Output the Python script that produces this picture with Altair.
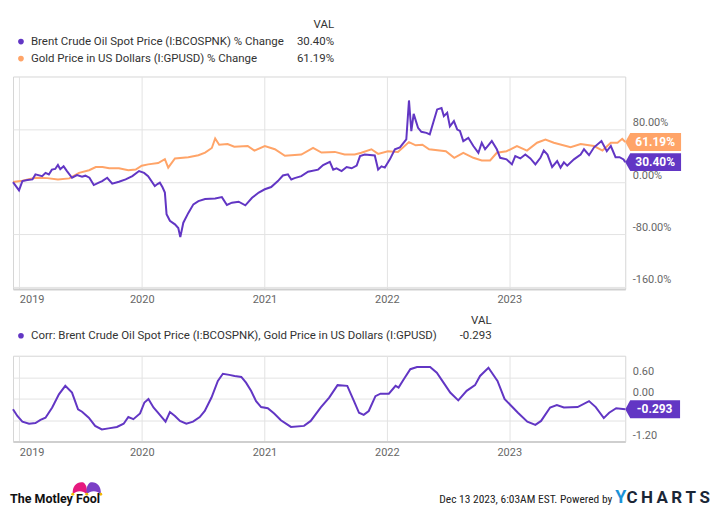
import altair as alt
import pandas as pd

# ---------------- data ----------------
brent_dates = [
    "2018-12-13", "2018-12-31", "2019-01-10", "2019-01-25", "2019-02-09", "2019-02-18",
    "2019-03-10", "2019-03-20", "2019-03-30", "2019-04-08", "2019-04-18", "2019-04-26",
    "2019-05-03", "2019-05-13", "2019-05-23", "2019-06-07", "2019-06-22", "2019-07-07",
    "2019-07-17", "2019-07-29", "2019-08-11", "2019-08-26", "2019-09-05", "2019-09-20",
    "2019-10-05", "2019-10-25", "2019-11-14", "2019-12-04", "2019-12-24", "2020-01-08",
    "2020-01-20", "2020-02-09", "2020-02-17", "2020-02-24", "2020-03-03", "2020-03-10",
    "2020-03-15", "2020-03-25", "2020-04-09", "2020-04-19", "2020-04-25", "2020-05-04",
    "2020-05-19", "2020-06-03", "2020-06-18", "2020-07-08", "2020-08-07", "2020-08-27",
    "2020-09-11", "2020-09-26", "2020-10-16", "2020-11-05", "2020-11-25", "2020-12-15",
    "2021-01-02", "2021-01-21", "2021-02-10", "2021-02-25", "2021-03-12", "2021-03-22",
    "2021-04-01", "2021-04-21", "2021-05-11", "2021-06-10", "2021-06-25", "2021-07-15",
    "2021-07-25", "2021-08-04", "2021-08-19", "2021-09-03", "2021-09-18", "2021-10-03",
    "2021-10-13", "2021-10-27", "2021-11-26", "2021-12-06", "2021-12-16", "2021-12-26",
    "2022-01-10", "2022-01-25", "2022-02-09", "2022-02-28", "2022-03-08", "2022-03-15",
    "2022-03-22", "2022-04-04", "2022-04-14", "2022-04-29", "2022-05-09", "2022-05-19",
    "2022-05-31", "2022-06-13", "2022-06-20", "2022-06-30", "2022-07-08", "2022-07-20",
    "2022-07-30", "2022-08-07", "2022-08-17", "2022-09-01", "2022-09-16", "2022-10-01",
    "2022-10-11", "2022-10-21", "2022-11-10", "2022-11-25", "2022-12-05", "2022-12-24",
    "2023-01-09", "2023-01-19", "2023-02-03", "2023-02-18", "2023-03-05", "2023-03-20",
    "2023-04-04", "2023-04-14", "2023-04-25", "2023-05-09", "2023-05-24", "2023-06-03",
    "2023-06-13", "2023-06-23", "2023-07-13", "2023-08-02", "2023-08-12", "2023-08-27",
    "2023-09-11", "2023-10-03", "2023-10-19", "2023-10-31", "2023-11-14", "2023-11-26",
    "2023-12-08", "2023-12-13",
]
brent_pct = [
    0, -12.6, 1.5, 3, 4, 11.7,
    9, 14, 11.5, 19, 20, 26,
    19.5, 24, 16.8, 6.6, 10.7, 8,
    9.7, 6.6, -4.6, -1, 1.5, 6.6,
    -2.5, 0.5, 4, 9, 16.8, 14,
    9, -6, -3, -1, -8, -16,
    -49, -59, -64.5, -70, -84, -62,
    -47, -34, -29, -26, -25, -23,
    -35, -31.5, -30, -35.5, -24, -16,
    -11, -7.6, 1.5, 10, 11.7, 4,
    6, 9, 15.7, 19, 26, 31,
    19, 21, 16.8, 23, 21, 25,
    39.6, 42, 40.6, 19, 24, 22,
    34.6, 50, 53, 65, 124.5, 77.7,
    104, 82.8, 76.7, 75, 72.7, 90,
    110.8, 113, 100.6, 105.6, 85, 93,
    80, 78, 62.5, 67.5, 55, 44.7,
    60, 50, 62.5, 50, 37, 34.6,
    27, 39.6, 36, 42, 36, 27,
    37, 48, 42, 23, 32, 22,
    30, 25, 34.6, 42, 50, 41,
    53, 62.5, 47, 55, 38, 38,
    34.6, 30.4,
]

gold_dates = [
    "2018-12-13", "2019-01-10", "2019-02-18", "2019-03-25", "2019-04-26", "2019-05-30",
    "2019-06-28", "2019-07-28", "2019-08-17", "2019-09-06", "2019-09-26", "2019-10-25",
    "2019-11-22", "2019-12-14", "2020-01-01", "2020-01-20", "2020-02-19", "2020-03-10",
    "2020-03-20", "2020-04-09", "2020-05-19", "2020-06-18", "2020-07-08", "2020-07-28",
    "2020-08-07", "2020-08-19", "2020-09-13", "2020-10-03", "2020-11-12", "2020-12-02",
    "2021-01-02", "2021-02-01", "2021-03-03", "2021-04-21", "2021-05-26", "2021-06-20",
    "2021-07-30", "2021-08-28", "2021-09-27", "2021-10-17", "2021-11-16", "2021-12-06",
    "2022-01-04", "2022-02-03", "2022-03-08", "2022-03-28", "2022-04-17", "2022-05-07",
    "2022-06-26", "2022-07-21", "2022-08-17", "2022-09-16", "2022-10-11", "2022-11-05",
    "2022-11-25", "2022-12-24", "2023-01-24", "2023-02-23", "2023-03-25", "2023-04-19",
    "2023-05-14", "2023-07-03", "2023-08-02", "2023-09-11", "2023-10-06", "2023-10-31",
    "2023-11-20", "2023-12-04", "2023-12-13",
]
gold_pct = [
    0, 2, 6.6, 6, 4, 5.6,
    14, 18, 22.8, 23, 21, 21,
    18, 19, 25, 27, 29, 35,
    22, 36, 38, 41, 45, 52,
    66.6, 57, 58, 54, 55, 48,
    55, 50, 40, 42, 52, 45,
    46, 42, 42, 44.7, 50, 43,
    47, 46, 61, 56, 57, 50,
    47, 37, 44.7, 37, 33, 33,
    44.7, 47, 55, 48, 60, 65,
    60, 53, 58, 55, 48, 60,
    60, 66, 61.19,
]

corr_dates = [
    "2018-12-13", "2018-12-26", "2019-01-10", "2019-01-30", "2019-02-18", "2019-03-05",
    "2019-03-20", "2019-04-09", "2019-04-29", "2019-05-18", "2019-06-07", "2019-06-25",
    "2019-07-07", "2019-07-27", "2019-08-15", "2019-09-04", "2019-09-24", "2019-10-19",
    "2019-11-08", "2019-11-22", "2019-12-07", "2019-12-27", "2020-01-09", "2020-01-21",
    "2020-02-05", "2020-02-19", "2020-03-12", "2020-03-25", "2020-04-09", "2020-04-24",
    "2020-05-13", "2020-06-02", "2020-06-22", "2020-07-07", "2020-07-27", "2020-08-15",
    "2020-08-30", "2020-09-18", "2020-10-04", "2020-10-24", "2020-11-07", "2020-11-22",
    "2020-12-07", "2020-12-22", "2021-01-11", "2021-01-30", "2021-02-19", "2021-03-21",
    "2021-04-29", "2021-05-19", "2021-06-18", "2021-07-13", "2021-08-07", "2021-09-05",
    "2021-09-25", "2021-10-10", "2021-10-24", "2021-11-08", "2021-11-28", "2021-12-13",
    "2022-01-07", "2022-01-27", "2022-02-05", "2022-02-20", "2022-03-12", "2022-04-01",
    "2022-05-10", "2022-05-30", "2022-06-19", "2022-07-09", "2022-08-02", "2022-08-27",
    "2022-09-21", "2022-10-06", "2022-10-31", "2022-11-27", "2022-12-18", "2023-01-27",
    "2023-02-24", "2023-03-20", "2023-04-06", "2023-05-03", "2023-05-23", "2023-06-13",
    "2023-07-24", "2023-08-27", "2023-09-16", "2023-10-10", "2023-10-26", "2023-11-16",
    "2023-12-13",
]
corr_vals = [
    -0.29, -0.48, -0.64, -0.70, -0.68, -0.59,
    -0.53, -0.24, 0.13, 0.37, 0.18, -0.29,
    -0.36, -0.53, -0.76, -0.86, -0.83, -0.79,
    -0.70, -0.51, -0.57, -0.41, -0.10, 0.0,
    -0.24, -0.39, -0.64, -0.37, -0.48, -0.62,
    -0.70, -0.64, -0.51, -0.34, 0.04, 0.51,
    0.71, 0.68, 0.65, 0.62, 0.46, 0.23,
    -0.06, -0.23, -0.26, -0.41, -0.60, -0.79,
    -0.76, -0.62, -0.24, 0.04, 0.39, 0.37,
    -0.06, -0.39, -0.45, -0.34, 0.08, 0.15,
    0.15, 0.37, 0.32, 0.55, 0.84, 0.90,
    0.90, 0.74, 0.46, 0.18, -0.04, 0.23,
    0.39, 0.65, 0.88, 0.51, 0.0, -0.39,
    -0.64, -0.73, -0.62, -0.24, -0.17, -0.24,
    -0.23, -0.06, -0.23, -0.54, -0.39, -0.26,
    -0.293,
]

top_ticks = [-160, -80, 0, 80]
bottom_ticks = [-1.2, -0.6, 0, 0.6]
year_ticks = [2019, 2020, 2021, 2022, 2023]

top_names = ["Brent Crude Oil Spot Price (I:BCOSPNK) % Change",
             "Gold Price in US Dollars (I:GPUSD) % Change"]
top_values = ["30.40%", "61.19%"]
bottom_name = "Corr: Brent Crude Oil Spot Price (I:BCOSPNK), Gold Price in US Dollars (I:GPUSD)"
bottom_value = "-0.293"
footer_text = "Dec 13 2023, 6:03AM EST.  Powered by"

# ---------------- styles ----------------
PURPLE = "#6236c4"
ORANGE = "#ffa468"
GRID = "#e3e3e3"
LABEL = "#666666"
TEXT = "#333333"
FONT = "Roboto"

W, H_TOP, H_BOT = 614, 213, 86

brent = pd.DataFrame({"date": brent_dates, "value": brent_pct})
gold = pd.DataFrame({"date": gold_dates, "value": gold_pct})
corr = pd.DataFrame({"date": corr_dates, "value": corr_vals})
brent_last = pd.DataFrame({"date": [brent_dates[-1]], "value": [brent_pct[-1]], "label": [top_values[0]]})
gold_last = pd.DataFrame({"date": [gold_dates[-1]], "value": [gold_pct[-1]], "label": [top_values[1]]})
corr_last = pd.DataFrame({"date": [corr_dates[-1]], "value": [corr_vals[-1]], "label": [bottom_value]})
one = pd.DataFrame({"k": [0]})

x_scale = alt.Scale(
    type="utc",
    domain=[alt.DateTime(year=2018, month=12, date=13, utc=True),
            alt.DateTime(year=2023, month=12, date=13, utc=True)],
)
x_axis = alt.Axis(
    values=[alt.DateTime(year=y, month=1, date=1, utc=True) for y in year_ticks],
    labelExpr="utcFormat(datum.value, '%Y')",
    title=None, ticks=False, tickSize=0, grid=True, gridColor=GRID,
    domainColor="#cfcfcf", domainWidth=2,
    labelFont=FONT, labelFontSize=11, labelColor=LABEL, labelPadding=5, labelFlush=10,
)
X = alt.X("date:T", scale=x_scale, axis=x_axis)

Y_TOP = alt.Y(
    "value:Q",
    scale=alt.Scale(domain=[-163, 161], nice=False, zero=False),
    axis=alt.Axis(
        orient="right", values=top_ticks, title=None, ticks=False, tickSize=0, domain=False,
        grid=True, gridColor=GRID, labelFont=FONT, labelFontSize=11, labelColor=LABEL,
        labelPadding=7, labelBaseline="bottom", labelOffset=-2,
        labelExpr="(datum.value < 0 ? '-' : '') + format(abs(datum.value), abs(datum.value) >= 100 ? '.1f' : '.2f') + '%'",
    ),
)
Y_BOT = alt.Y(
    "value:Q",
    scale=alt.Scale(domain=[-1.2, 1.22], nice=False, zero=False),
    axis=alt.Axis(
        orient="right", values=bottom_ticks, title=None, ticks=False, tickSize=0, domain=False,
        grid=True, gridColor=GRID, labelFont=FONT, labelFontSize=11, labelColor=LABEL,
        labelPadding=7, labelBaseline="bottom", labelOffset=-1,
        # the -0.60 label sits under the value badge, as in the original
        labelExpr="datum.value == -0.6 ? '' : (datum.value < 0 ? '-' : '') + format(abs(datum.value), '.2f')",
    ),
)


def txt(s, x, y, size=11.5, color=TEXT, align="left", baseline="middle", weight="normal", font=FONT):
    return alt.Chart(one).mark_text(
        text=s, align=align, baseline=baseline, fontSize=size, color=color,
        fontWeight=weight, font=font,
    ).encode(x=alt.value(x), y=alt.value(y))


def dot(x, y, color, size=32):
    return alt.Chart(one).mark_circle(size=size, color=color, opacity=1).encode(
        x=alt.value(x), y=alt.value(y))


def shape(path, x, y, color):
    return alt.Chart(one).mark_point(shape=path, size=4, filled=True, color=color, opacity=1).encode(
        x=alt.value(x), y=alt.value(y))


def badge(df, Y, color, width):
    path = f"M0,0L5,-9L{width},-9L{width},9L5,9Z"
    b = alt.Chart(df).mark_point(shape=path, size=4, filled=True, color=color, opacity=1).encode(x=X, y=Y)
    t = alt.Chart(df).mark_text(
        dx=width / 2 + 2, color="white", fontWeight="bold", fontSize=12, font=FONT,
        align="center", baseline="middle",
    ).encode(x=X, y=Y, text="label:N")
    return b + t


marker_tl = alt.Chart(one).mark_rule(opacity=0).encode(
    x=alt.value(-3), x2=alt.value(-2), y=alt.value(-67), y2=alt.value(-66))

top = alt.layer(
    alt.Chart(gold).mark_line(color=ORANGE, strokeWidth=2).encode(x=X, y=Y_TOP),
    alt.Chart(brent).mark_line(color=PURPLE, strokeWidth=2).encode(x=X, y=Y_TOP),
    badge(gold_last, Y_TOP, ORANGE, 56),
    badge(brent_last, Y_TOP, PURPLE, 56),
    txt("VAL", 322, -52, align="right"),
    dot(8, -35, PURPLE),
    txt(top_names[0], 18, -35),
    txt(top_values[0], 322, -35, align="right"),
    dot(8, -18, ORANGE),
    txt(top_names[1], 18, -18),
    txt(top_values[1], 322, -18, align="right"),
    marker_tl,
).properties(width=W, height=H_TOP)

marker_br = alt.Chart(one).mark_rule(opacity=0).encode(
    x=alt.value(699), x2=alt.value(700), y=alt.value(149), y2=alt.value(150))

HAT_L = "M-7,6C-8,-3 -2,-7 3,-6C6,-5 8,0 7,6C3,2 -3,2 -7,6Z"
HAT_R = "M-7,6C-8,0 -6,-5 -3,-6C2,-7 8,-3 7,6C3,2 -3,2 -7,6Z"

bottom = alt.layer(
    alt.Chart(corr).mark_line(color=PURPLE, strokeWidth=2).encode(x=X, y=Y_BOT),
    badge(corr_last, Y_BOT, PURPLE, 55),
    txt("VAL", 480, -35, align="right"),
    dot(8, -20, PURPLE),
    txt(bottom_name, 18, -20),
    txt(bottom_value, 480, -20, align="right"),
    # footer
    shape(HAT_L, 67, 133, "#e6197f"),
    shape(HAT_R, 81, 133, "#7b3fc6"),
    dot(60, 139, "#f2b705", size=9),
    dot(74, 139, "#f2b705", size=9),
    dot(88, 139, "#f2b705", size=9),
    txt("The Motley Fool", -3, 148, size=12.5, color="#111111", baseline="alphabetic", weight="bold", font="Roboto"),
    txt(footer_text, 601, 148, size=11.5, color="#222222", align="right", baseline="alphabetic",
        font="Liberation Sans Narrow, Roboto Condensed, Roboto"),
    txt("Y", 604, 148, size=18, color="#1c93d8", baseline="alphabetic", weight="bold"),
    txt("C\u2009H\u2009A\u2009R\u2009T\u2009S", 699, 148, size=17, color="#1b2636", align="right",
        baseline="alphabetic", weight="bold"),
    marker_br,
).properties(width=W, height=H_BOT)

chart = alt.vconcat(top, bottom, spacing=67, bounds="flush").properties(
    padding=0, background="white"
).configure_view(stroke="#d6d6d6", strokeWidth=1)

chart.save("out.html", embed_options={"renderer": "svg", "actions": False})
